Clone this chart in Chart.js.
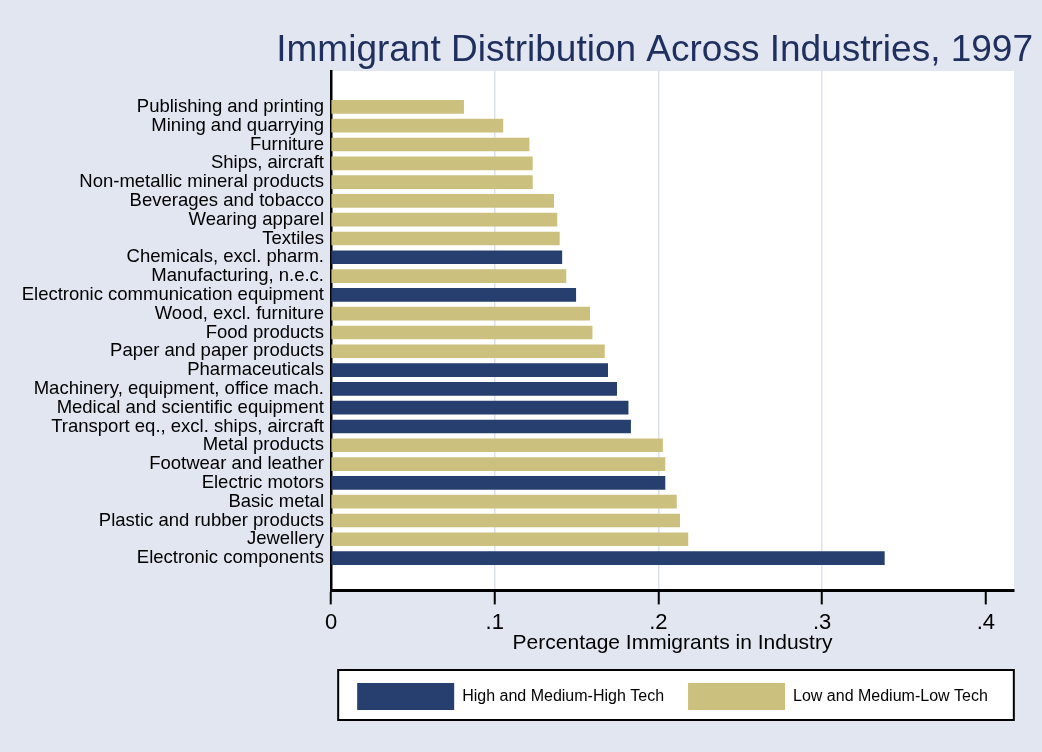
<!DOCTYPE html>
<html>
<head>
<meta charset="utf-8">
<title>Immigrant Distribution Across Industries, 1997</title>
<script src="https://cdn.jsdelivr.net/npm/chart.js@4.4.1/dist/chart.umd.min.js"></script>
<style>
  html, body { margin: 0; padding: 0; background: #e1e6f0; }
  #wrap { width: 1042px; height: 752px; }
</style>
</head>
<body>
<div id="wrap"><canvas id="myChart" width="1042" height="752"></canvas></div>
<script>
// Industries, top to bottom
const industries = [
  'Publishing and printing',
  'Mining and quarrying',
  'Furniture',
  'Ships, aircraft',
  'Non-metallic mineral products',
  'Beverages and tobacco',
  'Wearing apparel',
  'Textiles',
  'Chemicals, excl. pharm.',
  'Manufacturing, n.e.c.',
  'Electronic communication equipment',
  'Wood, excl. furniture',
  'Food products',
  'Paper and paper products',
  'Pharmaceuticals',
  'Machinery, equipment, office mach.',
  'Medical and scientific equipment',
  'Transport eq., excl. ships, aircraft',
  'Metal products',
  'Footwear and leather',
  'Electric motors',
  'Basic metal',
  'Plastic and rubber products',
  'Jewellery',
  'Electronic components'
];

// Share of immigrants in each industry
const shares = [
  0.081, 0.105, 0.121, 0.123, 0.123, 0.136, 0.138, 0.1395, 0.141, 0.1435,
  0.1495, 0.158, 0.1595, 0.167, 0.169, 0.1745, 0.1815, 0.183, 0.2025, 0.204,
  0.204, 0.211, 0.213, 0.218, 0.338
];

// 'H' = High and Medium-High Tech, 'L' = Low and Medium-Low Tech
const techGroup = [
  'L', 'L', 'L', 'L', 'L', 'L', 'L', 'L', 'H', 'L',
  'H', 'L', 'L', 'L', 'H', 'H', 'H', 'H', 'L', 'L',
  'H', 'L', 'L', 'L', 'H'
];

const groupNames = ['High and Medium-High Tech', 'Low and Medium-Low Tech'];
const xTicks = [0, 0.1, 0.2, 0.3, 0.4];
const xTickLabels = ['0', '.1', '.2', '.3', '.4'];

const NAVY = '#263f6e';
const KHAKI = '#cbc07e';
const BG = '#e1e6f0';
const FONT = 'Liberation Sans, Arial, sans-serif';

// bars for one group, placed on the row index of each industry
function pointsFor(group) {
  return industries
    .map((name, i) => ({ x: shares[i], y: i, g: techGroup[i] }))
    .filter(p => p.g === group);
}

// background, white plot region and the framed legend box
const backdrop = {
  id: 'backdrop',
  beforeDraw(chart) {
    const { ctx, chartArea: a } = chart;
    ctx.save();
    ctx.fillStyle = BG;
    ctx.fillRect(0, 0, chart.width, chart.height);
    ctx.fillStyle = '#ffffff';
    ctx.fillRect(a.left, a.top, a.right - a.left, a.bottom - a.top);

    const boxes = chart.legend.legendHitBoxes;
    if (boxes && boxes.length) {
      const first = boxes[0];
      const last = boxes[boxes.length - 1];
      const x0 = first.left - 19;
      const x1 = last.left + last.width + 26;
      const y0 = first.top - 13;
      const y1 = first.top + first.height + 10;
      ctx.fillStyle = '#ffffff';
      ctx.fillRect(x0, y0, x1 - x0, y1 - y0);
      ctx.strokeStyle = '#000000';
      ctx.lineWidth = 2;
      ctx.strokeRect(x0, y0, x1 - x0, y1 - y0);
    }
    ctx.restore();
  }
};

const ctx = document.getElementById('myChart');

new Chart(ctx, {
  type: 'bar',
  data: {
    datasets: [
      {
        label: groupNames[0],
        data: pointsFor('H'),
        backgroundColor: NAVY,
        borderWidth: 0
      },
      {
        label: groupNames[1],
        data: pointsFor('L'),
        backgroundColor: KHAKI,
        borderWidth: 0
      }
    ]
  },
  options: {
    indexAxis: 'y',
    responsive: false,
    animation: false,
    grouped: false,
    barThickness: 13,
    layout: { padding: { left: 0, right: 9, top: 0, bottom: 32 } },
    scales: {
      x: {
        type: 'linear',
        min: 0,
        max: 0.4172,
        afterBuildTicks: s => { s.ticks = xTicks.map(v => ({ value: v })); },
        ticks: {
          callback: (v, i) => xTickLabels[i],
          color: '#000000',
          font: { family: FONT, size: 22 },
          padding: 5.5,
          maxRotation: 0
        },
        grid: {
          color: c => (c.tick && (c.tick.value === 0 || c.tick.value === 0.4)) ? 'rgba(0,0,0,0)' : '#dbe2ec',
          lineWidth: 1.5,
          tickColor: '#000000',
          tickLength: 14,
          tickWidth: 2
        },
        border: { color: '#000000', width: 3 },
        title: {
          display: true,
          text: 'Percentage Immigrants in Industry',
          color: '#000000',
          font: { family: FONT, size: 21 },
          padding: { top: -11, bottom: 3 }
        }
      },
      y: {
        type: 'linear',
        reverse: true,
        offset: false,
        min: -1.91,
        max: 25.72,
        afterBuildTicks: s => { s.ticks = industries.map((n, i) => ({ value: i })); },
        afterFit: s => { s.width = 331; },
        ticks: {
          callback: (v, i) => industries[i],
          color: '#000000',
          font: { family: FONT, size: 18.5 },
          padding: 7,
          autoSkip: false
        },
        grid: { display: false, drawTicks: false, offset: false },
        border: { color: '#000000', width: 2.5 }
      },
      // empty right-hand strip so the plot stops short of the title's end
      yRight: {
        type: 'linear',
        position: 'right',
        afterFit: s => { s.width = 19; },
        ticks: { display: false },
        grid: { display: false, drawTicks: false },
        border: { display: false }
      }
    },
    plugins: {
      title: {
        display: true,
        text: 'Immigrant Distribution Across Industries, 1997',
        align: 'end',
        color: '#1f2f5e',
        font: { family: FONT, size: 37, weight: 'normal', lineHeight: 1 },
        padding: { top: 32.7, bottom: 1.3 }
      },
      legend: {
        position: 'bottom',
        fullSize: false,
        labels: {
          boxWidth: 97,
          boxHeight: 27,
          padding: 24,
          color: '#000000',
          font: { family: FONT, size: 16 }
        }
      },
      tooltip: { enabled: false }
    }
  },
  plugins: [backdrop]
});
</script>
</body>
</html>
